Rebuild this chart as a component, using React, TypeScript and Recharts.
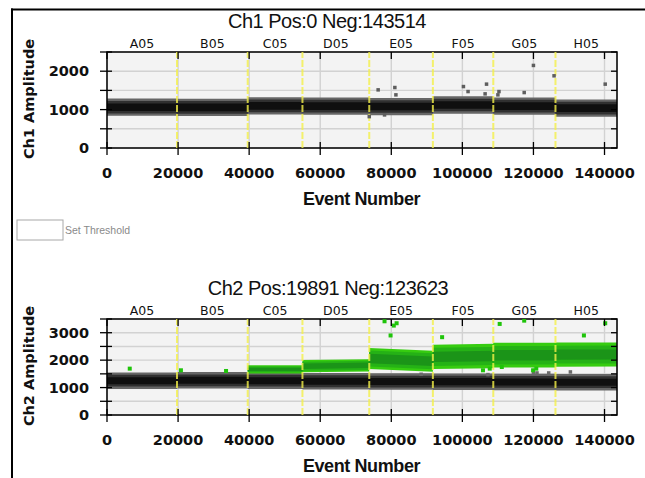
import React from 'react';
import {
  ComposedChart,
  Area,
  Scatter,
  XAxis,
  YAxis,
  CartesianGrid,
  ReferenceLine,
  ReferenceArea,
} from 'recharts';

// ---------- data ----------
const wells = ['A05', 'B05', 'C05', 'D05', 'E05', 'F05', 'G05', 'H05'];
const wellStarts = [0, 19700, 39600, 55000, 73800, 91700, 108700, 126200];
const totalEvents = 143514;
const xTicks = [0, 20000, 40000, 60000, 80000, 100000, 120000, 140000];
const ch1YTicks = [0, 500, 1000, 1500, 2000, 2500];
const ch2YTicks = [0, 500, 1000, 1500, 2000, 2500, 3000, 3500];

// Ch1 negative cluster: centre per well, half widths [core, mid, fuzz]
const ch1NegCenter = [1062, 1060, 1095, 1090, 1080, 1120, 1090, 1040];
const ch1NegHalf = [100, 165, 225];

// Ch2 negative cluster
const ch2NegCenter = [1250, 1265, 1250, 1230, 1220, 1215, 1205, 1195];
const ch2NegHalf = [130, 215, 300];

// Ch2 positive cluster: centre at start / end of well, half widths per well
const ch2PosCenterStart = [null, null, 1660, 1780, 2060, 2120, 2180, 2200];
const ch2PosCenterEnd = [null, null, 1665, 1810, 1960, 2150, 2180, 2205];
const ch2PosCore = [null, null, 60, 100, 170, 190, 190, 185];
const ch2PosMid = [null, null, 105, 165, 290, 330, 335, 325];
const ch2PosFuzz = [null, null, 150, 225, 385, 445, 450, 440];

// outliers [event, amplitude]
const ch1Outliers = [
  [76300, 1514], [81000, 1575], [81300, 1384], [100300, 1600], [101600, 1470],
  [106800, 1663], [106400, 1410], [110300, 1470], [110000, 1384], [117400, 1444],
  [120000, 2150], [125800, 1880], [140200, 1663], [78100, 862], [73800, 817],
];
const ch2PosOutliers = [
  [6400, 1690], [20800, 1630], [33500, 1605], [78100, 3417], [80700, 3260],
  [81500, 3345], [79800, 2900], [94300, 2837], [110500, 3320], [117400, 3440],
  [134200, 2900], [140200, 3345], [105800, 1630], [107700, 1690], [111100, 1750],
  [119900, 1630], [120800, 1690],
];
const ch2NegOutliers = [
  [107200, 1473], [88400, 1485], [120000, 1533], [121000, 1533], [124300, 1533],
  [130400, 1570],
];

// ---------- derived tables ----------
const wellEnds = [...wellStarts.slice(1), totalEvents];
const wellMids = wellStarts.map((s, i) => (s + wellEnds[i]) / 2);
const rng = (c: number | null, h: number | null) =>
  c == null || h == null ? null : [c - h, c + h];

const ch1Rows = wells.flatMap((_, i) =>
  [wellStarts[i], wellEnds[i]].map((x) => ({
    x,
    nCore: rng(ch1NegCenter[i], ch1NegHalf[0]),
    nMid: rng(ch1NegCenter[i], ch1NegHalf[1]),
    nFuzz: rng(ch1NegCenter[i], ch1NegHalf[2]),
  }))
);

const ch2Rows = wells.flatMap((_, i) =>
  [wellStarts[i], wellEnds[i]].map((x, j) => {
    const pc = j === 0 ? ch2PosCenterStart[i] : ch2PosCenterEnd[i];
    return {
      x,
      nCore: rng(ch2NegCenter[i], ch2NegHalf[0]),
      nMid: rng(ch2NegCenter[i], ch2NegHalf[1]),
      nFuzz: rng(ch2NegCenter[i], ch2NegHalf[2]),
      pCore: rng(pc, ch2PosCore[i]),
      pMid: rng(pc, ch2PosMid[i]),
      pFuzz: rng(pc, ch2PosFuzz[i]),
    };
  })
);

const toPts = (arr: number[][]) => arr.map(([x, y]) => ({ x, y }));

// ---------- layout ----------
const W = 645;
const CH = 211;
const PLOT_LEFT = 107;
const PLOT_RIGHT = 617;
const PLOT_TOP = 52;
const PLOT_BOTTOM = 148;
const TICK_FONT = 'DejaVu Sans, Verdana, sans-serif';

const square = (fill: string, s: number) => (p: any) =>
  p.cx == null ? <g /> : (
    <rect x={p.cx - s / 2} y={p.cy - s / 2} width={s} height={s} fill={fill} />
  );

const XTick = (p: any) => (
  <g>
    <line x1={p.x} x2={p.x} y1={PLOT_BOTTOM - 6} y2={PLOT_BOTTOM + 7} stroke="#000" strokeWidth={1.3} />
    <line x1={p.x} x2={p.x} y1={PLOT_TOP} y2={PLOT_TOP + 7} stroke="#000" strokeWidth={1.3} />
    <text x={p.x} y={PLOT_BOTTOM + 30} textAnchor="middle" fontFamily={TICK_FONT} fontWeight="bold" fontSize={14.5} fill="#111">
      {p.payload.value}
    </text>
  </g>
);

const YTick = (p: any) => (
  <g>
    <line x1={PLOT_LEFT - 7} x2={PLOT_LEFT + 5} y1={p.y} y2={p.y} stroke="#000" strokeWidth={1.3} />
    <line x1={PLOT_RIGHT - 6} x2={PLOT_RIGHT} y1={p.y} y2={p.y} stroke="#000" strokeWidth={1.3} />
    {p.payload.value % 1000 === 0 ? (
      <text x={PLOT_LEFT - 18} y={p.y + 5} textAnchor="end" fontFamily={TICK_FONT} fontWeight="bold" fontSize={14.5} fill="#111">
        {p.payload.value}
      </text>
    ) : null}
  </g>
);

const WellTick = (p: any) => {
  const idx = wellMids.indexOf(p.payload.value);
  return (
    <text x={p.x} y={PLOT_TOP - 4} textAnchor="middle" fontFamily={TICK_FONT} fontSize={12.5} fill="#111">
      {wells[idx]}
    </text>
  );
};

type PanelProps = {
  top: number;
  rows: any[];
  yMax: number;
  yTicks: number[];
  positive: boolean;
};

const Panel = ({ top, rows, yMax, yTicks, positive }: PanelProps) => (
  <div style={{ position: 'absolute', left: 0, top }}>
    <ComposedChart
      width={W}
      height={CH}
      data={rows}
      margin={{ top: 30, right: W - PLOT_RIGHT, left: 0, bottom: 0 }}
    >
      <CartesianGrid xAxisId="main" stroke="#d2d2d2" strokeWidth={1.4} fill="#f3f3f3" fillOpacity={1} />
      <XAxis
        xAxisId="top"
        orientation="top"
        type="number"
        dataKey="x"
        domain={[0, totalEvents]}
        allowDataOverflow
        ticks={wellMids}
        interval={0}
        height={22}
        axisLine={false}
        tickLine={false}
        tick={(p: any) => <WellTick {...p} />}
      />
      <XAxis
        xAxisId="main"
        type="number"
        dataKey="x"
        domain={[0, totalEvents]}
        allowDataOverflow
        ticks={xTicks}
        interval={0}
        height={CH - PLOT_BOTTOM}
        axisLine={false}
        tickLine={false}
        tick={(p: any) => <XTick {...p} />}
      />
      <YAxis
        type="number"
        domain={[0, yMax]}
        allowDataOverflow
        ticks={yTicks}
        interval={0}
        width={PLOT_LEFT}
        axisLine={false}
        tickLine={false}
        tick={(p: any) => <YTick {...p} />}
      />
      <Area xAxisId="main" type="linear" dataKey="nFuzz" stroke="none" fill="#666666" fillOpacity={1} isAnimationActive={false} />
      <Area xAxisId="main" type="linear" dataKey="nMid" stroke="none" fill="#303030" fillOpacity={1} isAnimationActive={false} />
      <Area xAxisId="main" type="linear" dataKey="nCore" stroke="none" fill="#0f0f0f" fillOpacity={1} isAnimationActive={false} />
      {positive ? (
        <Area xAxisId="main" type="linear" dataKey="pFuzz" stroke="none" fill="#36cc10" fillOpacity={1} isAnimationActive={false} />
      ) : null}
      {positive ? (
        <Area xAxisId="main" type="linear" dataKey="pMid" stroke="none" fill="#25b216" fillOpacity={1} isAnimationActive={false} />
      ) : null}
      {positive ? (
        <Area xAxisId="main" type="linear" dataKey="pCore" stroke="none" fill="#1b9418" fillOpacity={1} isAnimationActive={false} />
      ) : null}
      {wellStarts.slice(1).map((s) => (
        <ReferenceLine
          key={s}
          xAxisId="main"
          x={s}
          stroke="#f4f048"
          strokeOpacity={0.8}
          strokeWidth={2}
          strokeDasharray="7 2"
        />
      ))}
      {positive ? (
        <Scatter xAxisId="main" data={toPts(ch2NegOutliers)} dataKey="y" shape={square('#6a6a6a', 3.5)} isAnimationActive={false} />
      ) : (
        <Scatter xAxisId="main" data={toPts(ch1Outliers)} dataKey="y" shape={square('#5e5e5e', 3.5)} isAnimationActive={false} />
      )}
      {positive ? (
        <Scatter xAxisId="main" data={toPts(ch2PosOutliers)} dataKey="y" shape={square('#1fc40a', 4)} isAnimationActive={false} />
      ) : null}
      <ReferenceArea
        xAxisId="main"
        x1={0}
        x2={totalEvents}
        y1={0}
        y2={yMax}
        fill="none"
        fillOpacity={0}
        stroke="#000"
        strokeWidth={1.5}
        strokeOpacity={1}
        ifOverflow="visible"
      />
    </ComposedChart>
  </div>
);

const TITLE_FONT = 'Liberation Sans, Arial, sans-serif';

export default function App() {
  return (
    <div style={{ position: 'absolute', left: 0, top: 0, width: W, height: 478, background: '#fff', overflow: 'hidden' }}>
      <Panel top={0} rows={ch1Rows} yMax={2500} yTicks={ch1YTicks} positive={false} />
      <Panel top={267} rows={ch2Rows} yMax={3500} yTicks={ch2YTicks} positive={true} />
      <svg width={W} height={478} style={{ position: 'absolute', left: 0, top: 0, pointerEvents: 'none' }}>
        <line x1={12} x2={12} y1={8.5} y2={478} stroke="#000" strokeWidth={2} />
        <line x1={11} x2={W} y1={9.5} y2={9.5} stroke="#000" strokeWidth={2} />
        <text x={327} y={27.7} textAnchor="middle" fontFamily={TITLE_FONT} fontSize={20} letterSpacing={-0.5} fill="#111">
          Ch1 Pos:0 Neg:143514
        </text>
        <text x={328} y={294.7} textAnchor="middle" fontFamily={TITLE_FONT} fontSize={20} letterSpacing={-0.5} fill="#111">
          Ch2 Pos:19891 Neg:123623
        </text>
        <text x={33.5} y={99} transform="rotate(-90 33.5 99)" textAnchor="middle" fontFamily={TICK_FONT} fontWeight="bold" fontSize={14.5} fill="#111">
          Ch1 Amplitude
        </text>
        <text x={33.5} y={366} transform="rotate(-90 33.5 366)" textAnchor="middle" fontFamily={TICK_FONT} fontWeight="bold" fontSize={14.5} fill="#111">
          Ch2 Amplitude
        </text>
        <text x={361.5} y={205} textAnchor="middle" fontFamily={TITLE_FONT} fontWeight="bold" fontSize={18} letterSpacing={-0.4} fill="#111">
          Event Number
        </text>
        <text x={361.5} y={472} textAnchor="middle" fontFamily={TITLE_FONT} fontWeight="bold" fontSize={18} letterSpacing={-0.4} fill="#111">
          Event Number
        </text>
        <rect x={17} y={220} width={46} height={20} fill="#fff" stroke="#a8a8a8" strokeWidth={1} />
        <text x={65} y={233.5} fontFamily={TITLE_FONT} fontSize={10.5} fill="#8a8a8a">
          Set Threshold
        </text>
      </svg>
    </div>
  );
}
